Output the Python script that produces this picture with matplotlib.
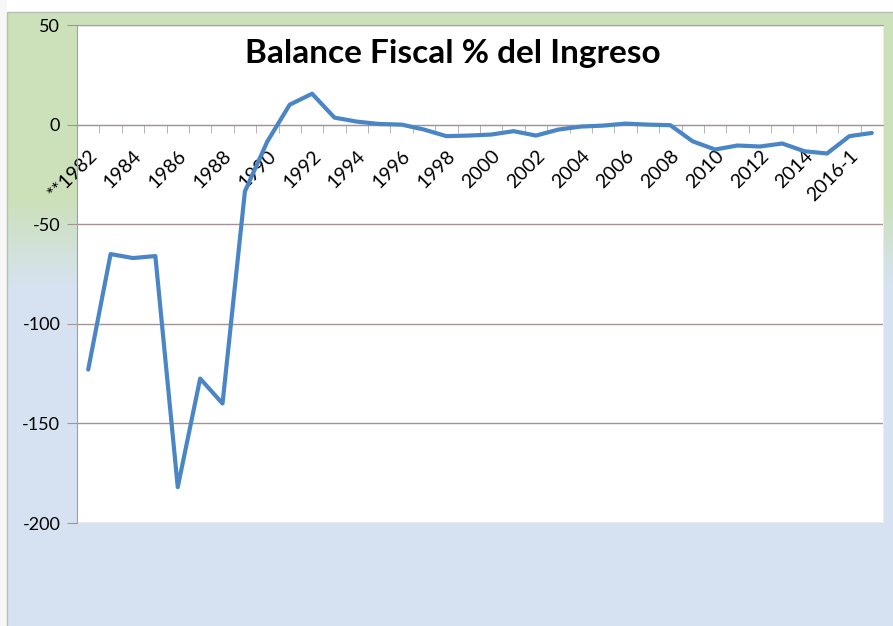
import numpy as np
import matplotlib
matplotlib.use("Agg")
import matplotlib.pyplot as plt
from matplotlib.patches import Rectangle

# data
years = ["**1982"] + [str(y) for y in range(1983, 2016)] + ["2016-1", "2016-2"]
balance = [-123, -65, -67, -66, -182, -127.5, -140, -33.5, -8.5, 10,
           15.5, 3.5, 1.5, 0.3, 0, -2.5, -5.8, -5.5, -5, -3.3,
           -5.5, -2.5, -1, -0.5, 0.5, 0, -0.3, -8.4, -12.5, -10.5,
           -11, -9.5, -13.4, -14.5, -5.8, -4.2]
yticks = [50, 0, -50, -100, -150, -200]

plt.rcParams['font.family'] = ['Lato', 'DejaVu Sans']

W, H = 893, 626
fig = plt.figure(figsize=(W / 100, H / 100), dpi=100)

# background gradient (green at top, light blue below)
bg = fig.add_axes([0, 0, 1, 1], zorder=-2)
bg.set_axis_off()
rows = np.linspace(0, 1, H)[:, None]
green = np.array([0.80, 0.88, 0.73])
blue = np.array([0.84, 0.89, 0.95])
t = np.clip((rows * H - 200) / 90, 0, 1)
img = (1 - t)[:, :, None] * green + t[:, :, None] * blue
img = np.repeat(img, W, axis=1)
img[:12, :, :] = 1.0
img[:, :7, :] = 0.97
bg.imshow(img, aspect='auto', extent=[0, 1, 0, 1], origin='upper')
bg.set_xlim(0, 1)
bg.set_ylim(0, 1)
bg.add_patch(Rectangle((7 / W, -0.01), 1.0, 1 - 12 / H + 0.01, fill=False,
                       edgecolor='#b9bfb4', linewidth=1.0))

ax = fig.add_axes([77 / W, 1 - 523 / H, (883 - 77) / W, (523 - 25) / H])
ax.set_facecolor('white')

x = np.arange(len(years))
ax.plot(x, balance, color='#4a86c6', linewidth=3.0, solid_joinstyle='round',
        solid_capstyle='round', zorder=3)

ax.set_xlim(-0.5, len(years) - 0.5)
ax.set_ylim(-200, 50)
ax.set_yticks(yticks)
ax.set_yticklabels([str(v) for v in yticks])
ax.yaxis.grid(True, color='#a39494', linewidth=1.0)
ax.set_axisbelow(True)
ax.tick_params(axis='y', length=7, color='#a39494', labelsize=13, pad=5)

ax.spines['bottom'].set_position(('data', 0))
ax.spines['bottom'].set_color('#a39494')
ax.spines['left'].set_color('#a0a0a0')
ax.spines['top'].set_color('#a0a0a0')
ax.spines['right'].set_color('#e8ecef')

ax.set_xticks(x[::2])
ax.set_xticklabels(years[::2], rotation=45, ha='right', va='top',
                   rotation_mode='anchor', fontsize=14)
ax.set_xticks(np.arange(len(years) + 1) - 0.5, minor=True)
ax.tick_params(axis='x', which='major', length=0, pad=16)
ax.tick_params(axis='x', which='minor', length=6, color='#b0a8a8')

ax.text(0.4665, 0.924, "Balance Fiscal % del Ingreso", transform=ax.transAxes,
        ha='center', va='baseline', fontsize=24, fontweight='bold')

fig.savefig("out.png", dpi=100)
